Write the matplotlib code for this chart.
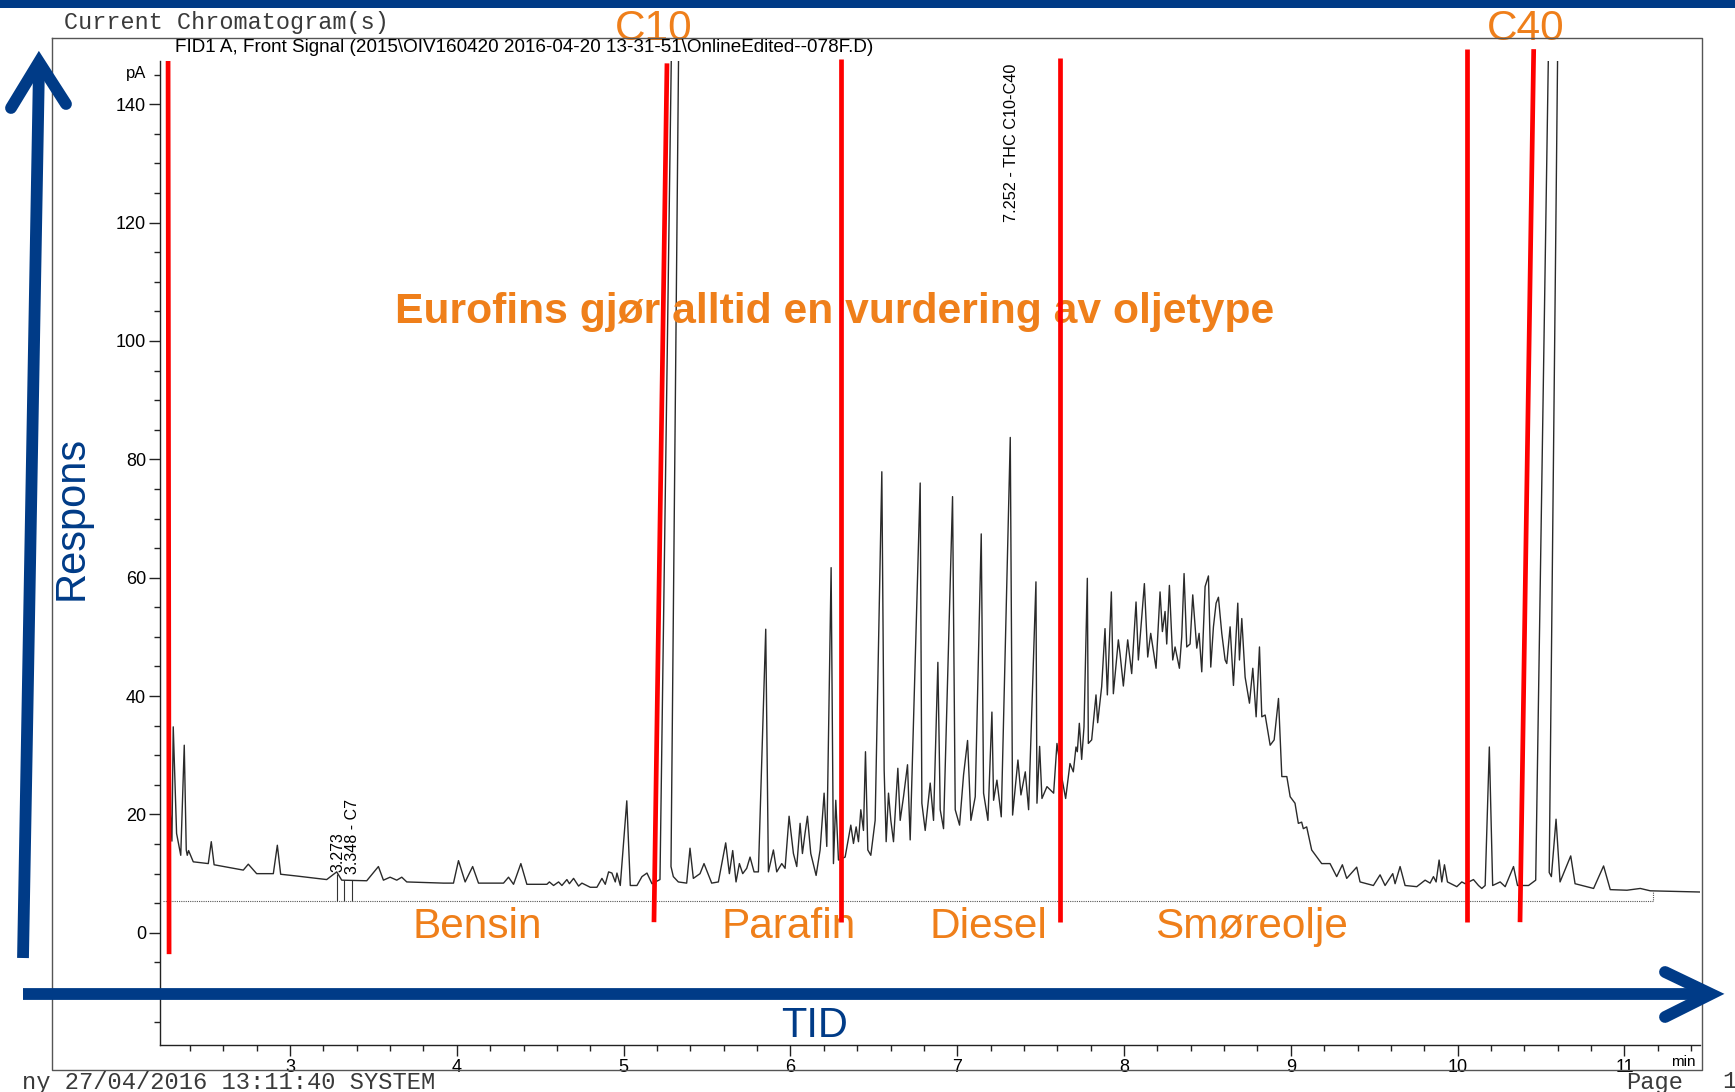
import matplotlib
matplotlib.use("Agg")
import matplotlib.pyplot as plt
from matplotlib.ticker import MultipleLocator

plt.rcParams["font.family"] = ["Liberation Sans", "DejaVu Sans"]

NAVY = "#003b87"
ORANGE = "#ef7f1a"
RED = "#fe0000"

# chromatogram trace: retention time (min) / response (pA)
# 150 = off-scale peak (clipped at the top of the plot)
time_min = [
    2.262, 2.274, 2.284, 2.292, 2.300, 2.320, 2.345, 2.366, 2.378, 2.384,
    2.392, 2.420, 2.510, 2.528, 2.545, 2.720, 2.750, 2.800, 2.900, 2.924,
    2.944, 3.040, 3.220, 3.280, 3.310, 3.460, 3.530, 3.560, 3.600, 3.640,
    3.670, 3.700, 3.920, 3.980, 4.010, 4.050, 4.095, 4.130, 4.280, 4.310,
    4.340, 4.384, 4.420, 4.540, 4.555, 4.580, 4.610, 4.630, 4.660, 4.675,
    4.700, 4.730, 4.750, 4.800, 4.840, 4.870, 4.890, 4.910, 4.930, 4.950,
    4.960, 4.980, 5.019, 5.040, 5.080, 5.110, 5.140, 5.170, 5.218, 5.287,
    5.330, 5.284, 5.298, 5.328, 5.378, 5.398, 5.418, 5.458, 5.482, 5.528,
    5.568, 5.612, 5.634, 5.654, 5.674, 5.694, 5.714, 5.738, 5.758, 5.782,
    5.808, 5.852, 5.868, 5.898, 5.918, 5.948, 5.968, 5.992, 6.018, 6.038,
    6.058, 6.072, 6.088, 6.102, 6.122, 6.154, 6.178, 6.202, 6.218, 6.244,
    6.258, 6.272, 6.288, 6.328, 6.362, 6.378, 6.394, 6.408, 6.422, 6.438,
    6.450, 6.464, 6.482, 6.508, 6.548, 6.562, 6.574, 6.588, 6.602, 6.618,
    6.644, 6.658, 6.678, 6.702, 6.718, 6.778, 6.788, 6.808, 6.838, 6.858,
    6.884, 6.898, 6.918, 6.972, 6.988, 7.014, 7.038, 7.062, 7.082, 7.108,
    7.144, 7.158, 7.184, 7.208, 7.218, 7.238, 7.264, 7.318, 7.332, 7.364,
    7.382, 7.408, 7.428, 7.472, 7.478, 7.494, 7.508, 7.538, 7.578, 7.598,
    7.626, 7.650, 7.676, 7.696, 7.712, 7.720, 7.732, 7.746, 7.760, 7.780,
    7.786, 7.806, 7.832, 7.842, 7.866, 7.886, 7.900, 7.924, 7.936, 7.966,
    7.976, 7.996, 8.022, 8.046, 8.072, 8.086, 8.122, 8.142, 8.160, 8.192,
    8.216, 8.230, 8.246, 8.256, 8.272, 8.292, 8.306, 8.332, 8.346, 8.360,
    8.376, 8.396, 8.412, 8.436, 8.450, 8.466, 8.486, 8.506, 8.520, 8.536,
    8.552, 8.566, 8.586, 8.606, 8.616, 8.636, 8.656, 8.682, 8.692, 8.706,
    8.726, 8.752, 8.772, 8.792, 8.812, 8.826, 8.846, 8.876, 8.900, 8.926,
    8.946, 8.976, 8.996, 9.025, 9.045, 9.065, 9.075, 9.095, 9.125, 9.185,
    9.235, 9.275, 9.309, 9.335, 9.395, 9.415, 9.495, 9.535, 9.565, 9.611,
    9.625, 9.655, 9.685, 9.755, 9.805, 9.835, 9.855, 9.871, 9.889, 9.905,
    9.921, 9.939, 9.995, 10.025, 10.045, 10.095, 10.125, 10.145, 10.165, 10.190,
    10.210, 10.255, 10.285, 10.335, 10.359, 10.425, 10.468, 10.545, 10.600, 10.549,
    10.562, 10.590, 10.614, 10.678, 10.704, 10.815, 10.875, 10.915, 11.015, 11.095,
    11.155, 11.450,
]
signal_pa = [
    150, 60, 20, 15.5, 34.8, 16.8, 13.1, 31.7, 14.0, 13.1,
    13.9, 12.0, 11.7, 15.4, 11.5, 10.6, 11.6, 10.0, 10.0, 14.8,
    9.9, 9.6, 9.0, 10.3, 8.9, 8.8, 11.2, 8.9, 9.4, 8.9,
    9.4, 8.6, 8.4, 8.4, 12.2, 8.6, 11.2, 8.4, 8.4, 9.4,
    8.2, 11.7, 8.2, 8.2, 8.6, 8.0, 8.6, 8.0, 9.0, 8.3,
    9.2, 7.9, 8.4, 7.7, 7.7, 9.2, 8.2, 10.3, 10.1, 8.6,
    10.1, 8.0, 22.3, 8.0, 8.0, 9.5, 10.1, 8.3, 9.0, 150,
    150, 11.2, 9.5, 8.6, 8.4, 14.3, 9.2, 10.0, 11.7, 8.4,
    8.6, 15.2, 10.0, 13.9, 8.6, 11.7, 10.0, 10.9, 12.8, 10.3,
    10.3, 51.3, 10.3, 14.0, 10.3, 11.7, 10.9, 19.7, 13.4, 11.2,
    18.5, 13.4, 16.9, 19.7, 13.4, 9.7, 14.0, 23.6, 14.6, 61.7,
    11.7, 22.4, 12.3, 12.8, 18.2, 15.1, 17.9, 15.4, 20.8, 17.3,
    30.6, 14.0, 13.1, 19.0, 77.9, 27.5, 15.4, 23.6, 19.0, 15.4,
    27.8, 19.0, 23.0, 28.4, 15.7, 76.0, 21.9, 17.3, 25.3, 19.0,
    45.7, 20.8, 17.6, 73.7, 20.8, 18.2, 26.7, 32.5, 19.0, 23.0,
    67.4, 23.6, 19.0, 37.3, 22.4, 25.8, 19.6, 83.7, 19.9, 29.2,
    23.3, 27.2, 20.8, 59.3, 21.9, 31.5, 22.7, 24.7, 23.6, 32.0,
    26.4, 22.7, 28.6, 27.2, 31.4, 30.6, 35.4, 29.3, 34.8, 59.9,
    32.0, 32.6, 40.2, 35.5, 41.6, 51.4, 40.2, 57.6, 40.4, 49.5,
    47.2, 41.7, 49.5, 43.8, 55.9, 46.1, 59.0, 46.6, 50.6, 44.7,
    57.6, 50.9, 54.3, 48.8, 58.7, 46.1, 48.3, 44.7, 50.0, 60.7,
    48.3, 48.8, 57.1, 48.1, 50.6, 44.1, 58.5, 60.3, 44.9, 51.7,
    55.7, 56.7, 50.6, 46.1, 45.5, 51.7, 41.8, 55.7, 46.1, 53.1,
    43.2, 38.8, 44.7, 36.5, 48.3, 36.5, 36.8, 31.7, 32.6, 39.6,
    26.4, 26.4, 23.0, 21.9, 18.5, 18.7, 17.6, 17.9, 14.0, 11.7,
    11.7, 9.5, 11.5, 9.2, 11.1, 8.6, 8.0, 9.8, 8.0, 10.0,
    8.3, 11.2, 8.0, 7.8, 8.9, 8.4, 9.5, 8.6, 12.3, 8.6,
    11.5, 8.6, 7.8, 8.6, 8.3, 9.0, 8.0, 7.5, 8.0, 31.4,
    8.0, 8.6, 7.8, 11.2, 8.0, 8.0, 8.9, 150, 150, 10.2,
    9.5, 19.2, 8.6, 13.0, 8.3, 7.5, 11.3, 7.3, 7.2, 7.5,
    7.1, 6.9,
]

# integration baseline (dotted) and peak marks
baseline_t = [2.24, 11.17, 11.17]
baseline_y = [5.4, 5.4, 7.1]
mark_t = [3.280, 3.326, 3.370]
mark_top = [10.0, 8.9, 8.85]

# red boundaries (top point, bottom point) in min / pA
red_top_t = [2.269, 5.260, 6.303, 7.616, 10.056, 10.456]
red_top_y = [147.3, 146.9, 147.6, 147.8, 149.3, 149.3]
red_bot_t = [2.275, 5.182, 6.303, 7.616, 10.056, 10.374]
red_bot_y = [-3.6, 1.8, 1.8, 1.8, 1.8, 1.8]

region_names = ["Bensin", "Parafin", "Diesel", "Smøreolje"]
region_t = [4.124, 5.992, 7.185, 8.767]

W, H = 1735, 1092
fig = plt.figure(figsize=(W / 100, H / 100), dpi=100)

# chromatogram axes, placed by pixel edges
left, right, top, bottom = 160, 1700, 61, 1045
ax = fig.add_axes([left / W, 1 - bottom / H, (right - left) / W, (bottom - top) / H])
ax.set_xlim(2.2206, 11.453)
ax.set_ylim(-18.95, 147.3)
for s in ("top", "right"):
    ax.spines[s].set_visible(False)
for s in ("left", "bottom"):
    ax.spines[s].set_linewidth(1.0)
    ax.spines[s].set_color("#222222")
ax.set_xticks(range(3, 12))
ax.xaxis.set_minor_locator(MultipleLocator(0.2))
ax.set_yticks(range(0, 141, 20))
ax.yaxis.set_minor_locator(MultipleLocator(5))
ax.tick_params(which="major", length=8, width=1, labelsize=13, pad=2, color="#222222")
ax.tick_params(which="minor", length=4, width=1, color="#222222")
ax.annotate("pA", xy=(0, 145.2), xycoords=("axes fraction", "data"), xytext=(-10, 0),
            textcoords="offset points", ha="right", va="center", fontsize=12)

ax.plot(baseline_t, baseline_y, color="#555555", lw=0.8, ls=(0, (1, 1)), zorder=2)
ax.vlines(mark_t, 5.4, mark_top, color="#333333", lw=0.8, zorder=2)
ax.plot(time_min, signal_pa, color="#2a2a2a", lw=1.0, zorder=3)

ax.text(3.286, 10.3, "3.273", rotation=90, ha="center", va="bottom", fontsize=11.5)
ax.text(3.374, 10.0, "3.348 - C7", rotation=90, ha="center", va="bottom", fontsize=11.5)
ax.text(7.326, 120.1, "7.252 - THC C10-C40", rotation=90, ha="center", va="bottom", fontsize=11.7)

ax.text(6.267, 103.0, "Eurofins gjør alltid en vurdering av oljetype", color=ORANGE,
        fontsize=30.7, fontweight="bold", ha="center", va="baseline", zorder=4)
for name, t in zip(region_names, region_t):
    ax.text(t, -0.9, name, color=ORANGE, fontsize=30.5, ha="center", va="baseline", zorder=4)
ax.text(5.182, 150.8, "C10", color=ORANGE, fontsize=30.5, ha="center", va="baseline", clip_on=False)
ax.text(10.41, 150.8, "C40", color=ORANGE, fontsize=30.5, ha="center", va="baseline", clip_on=False)

for t0, y0, t1, y1 in zip(red_top_t, red_top_y, red_bot_t, red_bot_y):
    ax.plot([t0, t1], [y0, y1], color=RED, lw=3.4, solid_capstyle="butt", clip_on=False, zorder=6)

# page decorations in pixel coordinates
deco = fig.add_axes([0, 0, 1, 1], zorder=5)
deco.set_xlim(0, W)
deco.set_ylim(H, 0)
deco.axis("off")

deco.plot([52, 1702, 1702, 52, 52], [38, 38, 1070, 1070, 38], color="#555555", lw=1.0)
deco.fill_between([0, W], 0, 8, color=NAVY, lw=0)
deco.text(64, 23, "Current Chromatogram(s)", family="Liberation Mono", fontsize=16.9,
          color="#3a3a3a", va="center", ha="left")
deco.text(175, 48, r"FID1 A, Front Signal (2015\OIV160420 2016-04-20 13-31-51\OnlineEdited--078F.D)",
          fontsize=13.6, va="center", ha="left")
deco.text(22, 1082, "ny 27/04/2016 13:11:40 SYSTEM", family="Liberation Mono", fontsize=17.1,
          color="#3a3a3a", va="center", ha="left")
deco.text(1626, 1082, "Page", family="Liberation Mono", fontsize=17.1, color="#3a3a3a",
          va="center", ha="left")
deco.text(1722, 1082, "1", family="Liberation Mono", fontsize=17.1, color="#3a3a3a",
          va="center", ha="left")
deco.text(1683, 1062, "min", fontsize=11, va="center", ha="center")

# blue axis arrows
deco.plot([23, 39], [958, 66], color=NAVY, lw=8.5, solid_capstyle="butt")
deco.plot([11, 39, 66], [108, 62, 104], color=NAVY, lw=8.5,
          solid_capstyle="round", solid_joinstyle="miter")
deco.plot([23, 1706], [994, 994], color=NAVY, lw=8.5, solid_capstyle="butt")
deco.plot([1665, 1711, 1665], [972, 994, 1017], color=NAVY, lw=8.5,
          solid_capstyle="round", solid_joinstyle="miter")
deco.text(72, 518, "Respons", color=NAVY, fontsize=30, rotation=90, ha="center", va="center")
deco.text(815, 1026, "TID", color=NAVY, fontsize=30, ha="center", va="center")

fig.savefig("out.png", dpi=100)
